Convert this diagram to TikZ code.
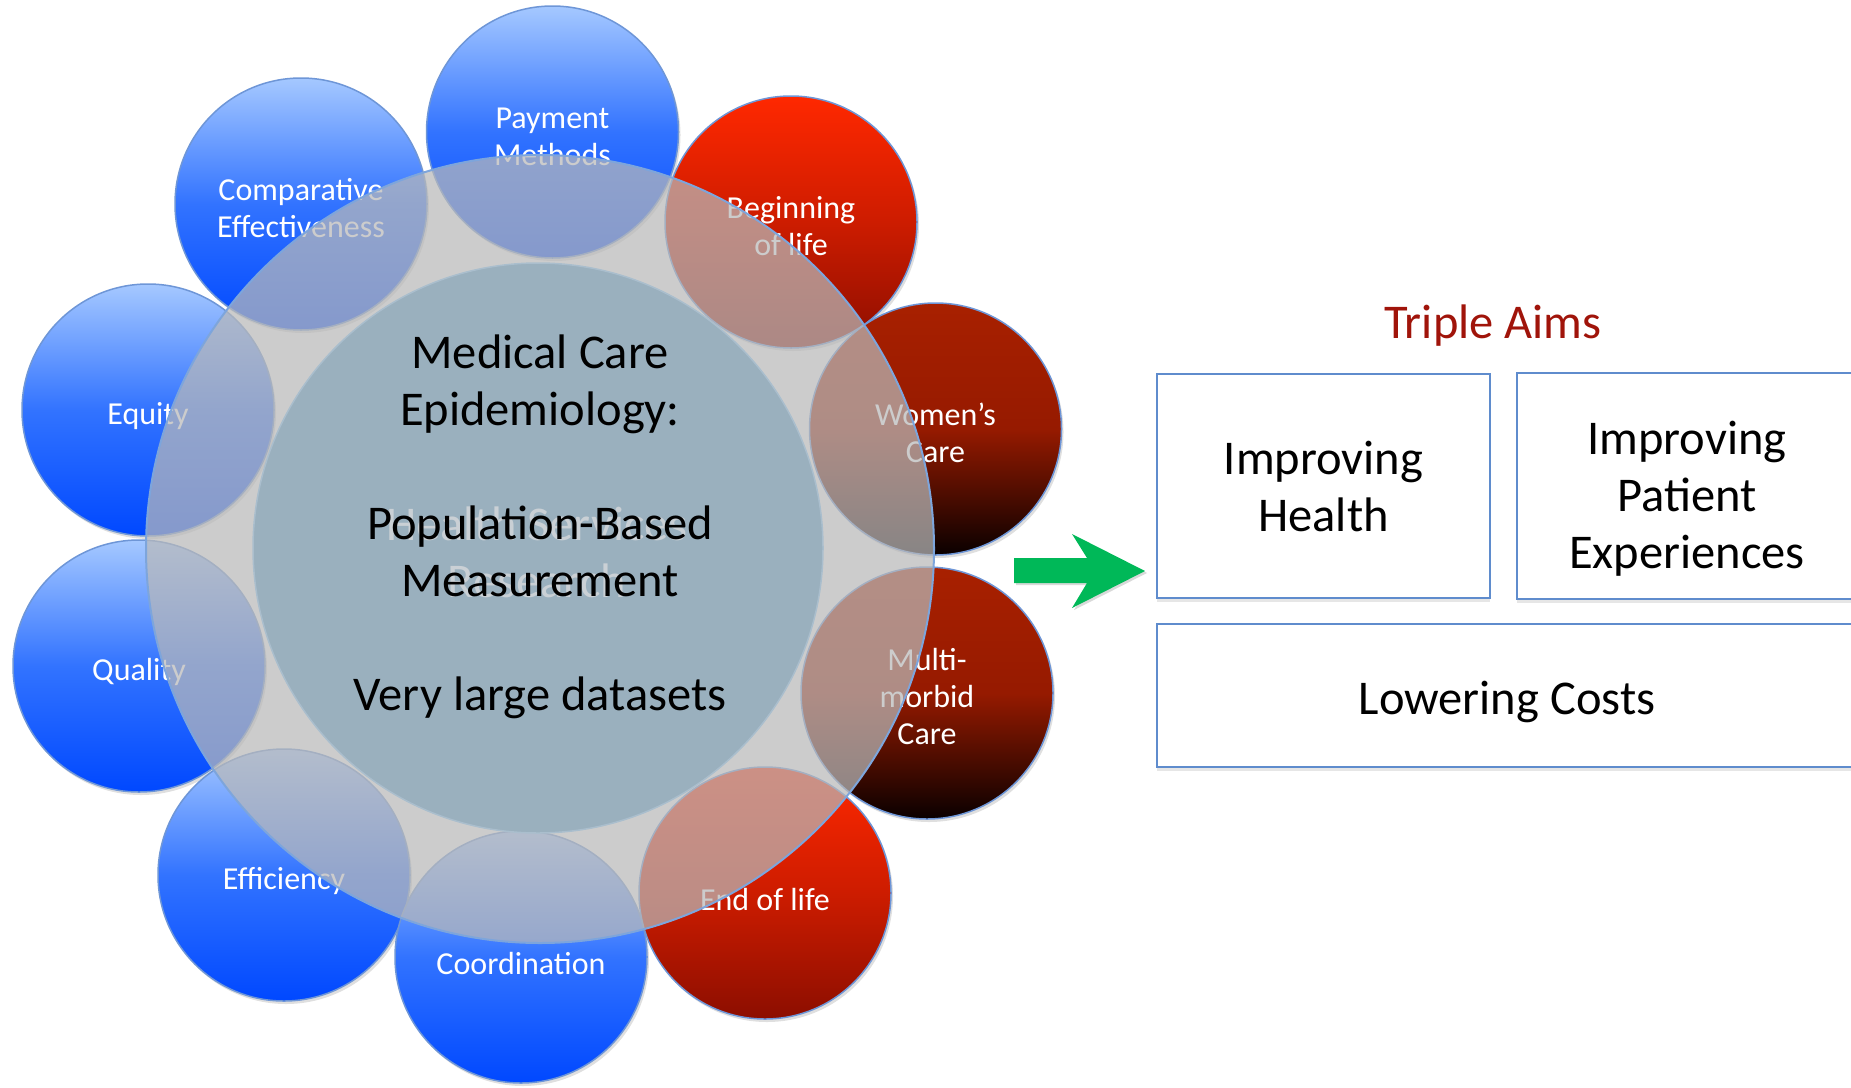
\documentclass[tikz,border=0pt]{standalone}
\usepackage{fontspec}
\setmainfont{Carlito}
\usetikzlibrary{positioning,shadows}

\definecolor{bluetop}{RGB}{165,200,255}
\definecolor{bluemid}{RGB}{50,115,255}
\definecolor{bluebot}{RGB}{0,72,255}
\definecolor{redtop}{RGB}{255,40,0}
\definecolor{redmid}{RGB}{205,28,0}
\definecolor{redbot}{RGB}{140,14,0}
\definecolor{darktop}{RGB}{168,32,0}
\definecolor{darkmid}{RGB}{150,26,0}
\definecolor{darkbot}{RGB}{10,0,0}
\definecolor{bubbleline}{RGB}{110,150,215}
\definecolor{ringgrey}{RGB}{185,185,185}
\definecolor{ringline}{RGB}{125,165,220}
\definecolor{corefill}{RGB}{154,176,190}
\definecolor{coreline}{RGB}{170,190,205}
\definecolor{ghost}{RGB}{202,208,213}
\definecolor{aimred}{RGB}{160,20,10}
\definecolor{boxline}{RGB}{95,140,205}
\definecolor{arrowgreen}{RGB}{0,184,88}

\begin{document}
\begin{tikzpicture}[x=1pt,y=-1pt,on grid,
  bubble/.style={circle,draw=bubbleline,line width=1.5pt,minimum size=252pt,inner sep=0pt,
    align=center,text=white,font=\fontsize{32}{37}\selectfont,
    top color=#1top,bottom color=#1bot,middle color=#1mid,
    drop shadow={opacity=0.25,shadow xshift=2pt,shadow yshift=-3pt}},
  aimbox/.style={rectangle,draw=boxline,line width=2.5pt,fill=white,align=center,
    font=\fontsize{48.5}{57}\selectfont,
    drop shadow={opacity=0.2,shadow xshift=0pt,shadow yshift=-4pt}},
  bigtext/.style={align=center,font=\fontsize{48.5}{57}\selectfont}]
\clip (0,0) rectangle (1851,1087);
\node[bubble=blue] (pay) at (552.5,132) {\rule{0pt}{30pt}Payment\\Methods};
\node[bubble=blue] (comp) at (301,204) {\rule{0pt}{30pt}Comparative\\Effectiveness};
\node[bubble=blue] (equity) at (148,410) {\rule{0pt}{35pt}Equity};
\node[bubble=blue] (quality) at (139,666) {\rule{0pt}{35pt}Quality};
\node[bubble=blue] (effic) at (284,875) {\rule{0pt}{35pt}Efficiency};
\node[bubble=blue] (coord) at (521,957) {\rule{0pt}{35pt}Coordination};
\node[bubble=red] (begin) at (791,222) {\rule{0pt}{30pt}Beginning\\of life};
\node[bubble=dark] (women) at (935.5,429) {\rule{0pt}{30pt}Women’s\\Care};
\node[bubble=dark] (multi) at (927,693) {\rule{0pt}{30pt}Multi-\\morbid\\Care};
\node[bubble=red] (endlife) at (765,893) {\rule{0pt}{35pt}End of life};
\node[circle,minimum size=788pt,inner sep=0pt,fill=ringgrey,fill opacity=0.72,
  draw=ringline,line width=2pt] (halo) at (540,549) {};
\node[circle,minimum size=570pt,inner sep=0pt,fill=corefill,draw=coreline,line width=1.5pt] (core) at (538,548) {};
\node[bigtext,text=ghost] (hsr) at (537,552) {Health Services\\Research};
\node[bigtext] (focus) at (540,527) {Medical Care\\Epidemiology:\\[57pt]Population-Based\\Measurement\\[57pt]Very large datasets};
% triple aims
\node[bigtext,text=aimred] (aims) at (1493,326) {Triple Aims};
\node[aimbox,minimum width=333pt,minimum height=224pt] (health) at (1323.5,486) {Improving\\Health};
\node[aimbox,minimum width=340pt,minimum height=226pt,right=363.5pt of health] (patient) {\rule{0pt}{58pt}Improving\\Patient\\Experiences};
\node[aimbox,minimum width=700pt,minimum height=143pt,below right=209.5pt and 183.5pt of health] (costs) {\rule{0pt}{47pt}Lowering Costs};
\fill[arrowgreen,drop shadow={opacity=0.3,shadow xshift=2pt,shadow yshift=-2pt}]
  (1014,558) -- (1087,558) -- (1072,534) -- (1145,571) -- (1072,608) -- (1087,583) -- (1014,583) -- cycle;
\end{tikzpicture}
\end{document}
